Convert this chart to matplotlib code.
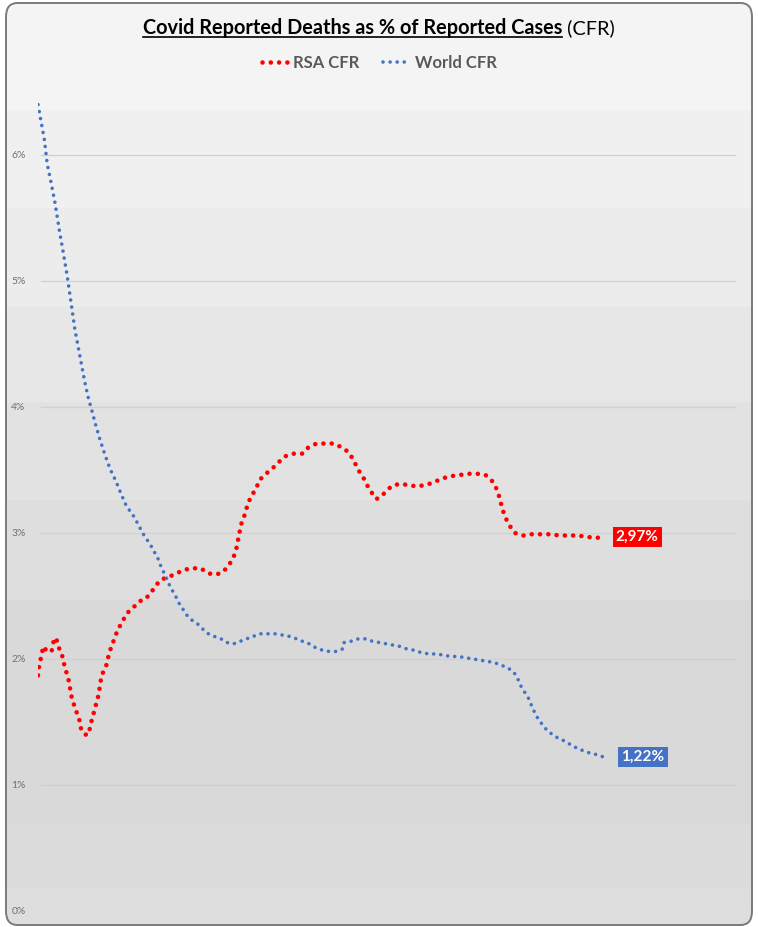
import matplotlib
matplotlib.use("Agg")
import matplotlib.pyplot as plt
from matplotlib.patches import FancyBboxPatch
from matplotlib.lines import Line2D

plt.rcParams['font.family'] = ['Lato', 'DejaVu Sans']

# day index along the x axis, CFR in %
rsa_days = [0, 0.6, 1.8, 2.6, 4.6, 6.8, 7.6, 9, 10.2, 12.2, 13.2, 15.2, 16.8, 18.5, 20.5,
            21.5, 23.5, 25.2, 26.8, 28, 30.2, 31.8, 34, 35.2, 36.5, 38.2, 39.8, 42, 44.3,
            47.7, 51, 53.2, 56.3, 58.7, 61.5, 65.2, 69.3, 73.5, 77.7, 81.3, 85.2, 88.2,
            91.3, 94.3, 97.3, 99, 100.7, 101.8, 103.5, 104.7, 106.5, 109, 110.7, 114,
            117.7, 120.2, 123.8, 128, 132.2, 135.2, 139.3, 143.5, 148, 151.8, 155.5, 158,
            160.2, 163, 165.2, 167.3, 169.3, 172.2, 175.2, 177.7, 181.5, 185.2, 189.3,
            193.5, 197.7, 201.5, 206, 210.7, 215.2, 219.7, 223.8, 227.2, 229.3, 231, 232,
            233.5, 235.7, 238.5, 242.7, 246.8, 251.5, 256, 260.7, 265.2, 269.7, 274.3,
            278.8, 283]
rsa_cfr = [1.87, 1.95, 2.03, 2.10, 2.06, 2.06, 2.13, 2.17, 2.10, 2.02, 1.95, 1.84, 1.70,
           1.61, 1.53, 1.45, 1.40, 1.40, 1.51, 1.58, 1.71, 1.87, 1.94, 2.02, 2.09, 2.16,
           2.23, 2.29, 2.36, 2.41, 2.46, 2.47, 2.52, 2.58, 2.63, 2.65, 2.68, 2.71, 2.72,
           2.72, 2.68, 2.67, 2.68, 2.72, 2.79, 2.86, 3.00, 3.08, 3.15, 3.22, 3.29, 3.35,
           3.42, 3.47, 3.52, 3.56, 3.61, 3.63, 3.63, 3.68, 3.71, 3.71, 3.71, 3.68, 3.64,
           3.57, 3.50, 3.43, 3.36, 3.31, 3.27, 3.30, 3.35, 3.38, 3.39, 3.38, 3.37, 3.38,
           3.40, 3.43, 3.45, 3.46, 3.47, 3.47, 3.46, 3.41, 3.35, 3.27, 3.20, 3.13, 3.06,
           3.00, 2.98, 2.99, 2.99, 2.99, 2.98, 2.98, 2.98, 2.97, 2.96, 2.97]

world_days = [0, 3.2, 4.6, 6.3, 8.5, 10.7, 12.7, 14.7, 18.5, 23.5, 25.2, 26.8, 28.8, 31,
              33.5, 36, 39, 41.8, 44.3, 47.2, 49, 51, 52.7, 54.8, 56.8, 58.5, 60.2, 61.8,
              63.5, 64.8, 66.5, 68.5, 70.2, 72.3, 74.3, 76.8, 79.7, 82.2, 85.2, 88, 91.5,
              94.7, 97.7, 101, 104.3, 107.7, 111, 114.8, 118.5, 122.2, 125.7, 129.3,
              132.3, 135.7, 138.8, 142.2, 145.7, 149, 152.3, 153, 156.3, 160.2, 163.8,
              167.3, 171, 174.3, 177.7, 181, 184.3, 188, 191.8, 195.5, 199.3, 203, 206.3,
              210.2, 213.8, 217.7, 221.3, 225.2, 228.5, 231.8, 234.8, 237.7, 239.7, 241.3,
              243.2, 245.2, 246.8, 248.2, 250.2, 252.2, 254.7, 257.3, 260.2, 263.2, 266.3,
              269.7, 273, 276.5, 279.8, 283]
world_cfr = [6.40, 6.12, 5.93, 5.80, 5.62, 5.40, 5.22, 5.03, 4.61, 4.19, 4.07, 3.98, 3.86,
             3.74, 3.62, 3.51, 3.41, 3.30, 3.21, 3.15, 3.10, 3.04, 2.99, 2.94, 2.89, 2.84,
             2.79, 2.72, 2.67, 2.62, 2.56, 2.51, 2.45, 2.40, 2.35, 2.31, 2.28, 2.24, 2.20,
             2.18, 2.16, 2.13, 2.12, 2.14, 2.16, 2.18, 2.20, 2.20, 2.20, 2.19, 2.18, 2.16,
             2.14, 2.12, 2.09, 2.07, 2.06, 2.06, 2.08, 2.13, 2.14, 2.16, 2.16, 2.14, 2.13,
             2.12, 2.11, 2.10, 2.08, 2.07, 2.05, 2.04, 2.04, 2.03, 2.02, 2.02, 2.01, 2.00,
             1.99, 1.98, 1.97, 1.95, 1.93, 1.90, 1.85, 1.79, 1.74, 1.69, 1.63, 1.58, 1.52,
             1.48, 1.43, 1.40, 1.37, 1.35, 1.32, 1.29, 1.27, 1.25, 1.24, 1.22]

y_ticks = [0, 1, 2, 3, 4, 5, 6]
y_labels = ['0%', '1%', '2%', '3%', '4%', '5%', '6%']
rsa_label = '2,97%'
world_label = '1,22%'

RED = '#ff0000'
BLUE = '#4472c4'

fig = plt.figure(figsize=(7.58, 9.27), dpi=100, facecolor='white')

# card with rounded border
card = FancyBboxPatch((6 / 758, 2 / 927), 746 / 758, 922 / 927,
                      boxstyle='round,pad=0,rounding_size=0.015',
                      transform=fig.transFigure, facecolor='#f4f4f4',
                      edgecolor='none', zorder=0)
fig.patches.append(card)
border = FancyBboxPatch((6 / 758, 2 / 927), 746 / 758, 922 / 927,
                        boxstyle='round,pad=0,rounding_size=0.015',
                        transform=fig.transFigure, facecolor='none',
                        edgecolor='#7a7a7a', linewidth=1.4, zorder=5)
fig.patches.append(border)

ax = fig.add_axes([38 / 758, 16 / 927, 700 / 758, 819 / 927])
ax.set_zorder(2)
ax.set_facecolor('none')
ax.set_xlim(0, 350)
ax.set_ylim(0, 6.5)

# background bands (gradient look)
bands = [(5.58, 6.36, '#f0f0f0'), (4.79, 5.58, '#ececec'), (4.04, 4.79, '#e7e7e7'),
         (3.26, 4.04, '#e2e2e2'), (2.47, 3.26, '#dedede'), (0.70, 2.47, '#d9d9d9'),
         (0.18, 0.70, '#dbdbdb'), (-0.2, 0.18, '#dedede')]
for lo, hi, c in bands:
    sp = ax.axhspan(lo, hi, xmin=-0.06, xmax=1.03, color=c, lw=0, zorder=0)
    sp.set_clip_on(True)
    sp.set_clip_box(None)
    sp.set_clip_path(card)

for t in y_ticks:
    ax.axhline(t, xmin=0.004, xmax=0.996, color='#d0d0d0', lw=0.9, zorder=1)

l1, = ax.plot(rsa_days, rsa_cfr, color=RED, lw=3.3, linestyle=(0, (0.01, 1.8)),
              dash_capstyle='round', solid_capstyle='round', label='RSA CFR', zorder=3)
l2, = ax.plot(world_days, world_cfr, color=BLUE, lw=2.6, linestyle=(0, (0.01, 1.95)),
              dash_capstyle='round', solid_capstyle='round', label='World CFR', zorder=3)

ax.set_yticks(y_ticks)
ax.set_yticklabels(y_labels, fontsize=7.5, color='#707070')
ax.tick_params(axis='y', length=0, pad=9)
ax.set_xticks([])
for s in ax.spines.values():
    s.set_visible(False)

# end labels
ax.annotate(rsa_label, (rsa_days[-1], rsa_cfr[-1]), xytext=(8.5, 0), textcoords='offset points',
            ha='left', va='center', color='white', fontsize=11, fontweight='bold', zorder=5,
            bbox=dict(boxstyle='square,pad=0.2', fc=RED, ec='none'))
ax.annotate(world_label, (world_days[-1], world_cfr[-1]), xytext=(12.5, 0), textcoords='offset points',
            ha='left', va='center', color='white', fontsize=11, fontweight='bold', zorder=5,
            bbox=dict(boxstyle='square,pad=0.2', fc=BLUE, ec='none'))

# legend
leg = fig.legend(handles=[l1, l2], loc='center', bbox_to_anchor=(0.5, 1 - 63 / 927),
                 ncol=2, frameon=False, fontsize=12, handlelength=1.7, handletextpad=0.2,
                 columnspacing=1.4)
for txt in leg.get_texts():
    txt.set_color('#595959')
    txt.set_fontweight('bold')

# title: underlined bold part + regular "(CFR)"
ty = 1 - 28 / 927
t1 = fig.text(0, ty, 'Covid Reported Deaths as % of Reported Cases', fontsize=14.3,
              fontweight='bold', color='black', va='center', ha='left')
t2 = fig.text(0, ty, ' (CFR)', fontsize=14.3, color='black', va='center', ha='left')
fig.canvas.draw()
r = fig.canvas.get_renderer()
w1 = t1.get_window_extent(r).width / fig.bbox.width
w2 = t2.get_window_extent(r).width / fig.bbox.width
x0 = 0.5 - (w1 + w2) / 2
t1.set_x(x0)
t2.set_x(x0 + w1)
fig.canvas.draw()
bb = t1.get_window_extent(r).transformed(fig.transFigure.inverted())
fig.lines.append(Line2D([bb.x0, bb.x1], [bb.y0 + 0.001, bb.y0 + 0.001], transform=fig.transFigure,
                        color='black', lw=1.2))

fig.savefig('out.png', dpi=100, facecolor='white')
